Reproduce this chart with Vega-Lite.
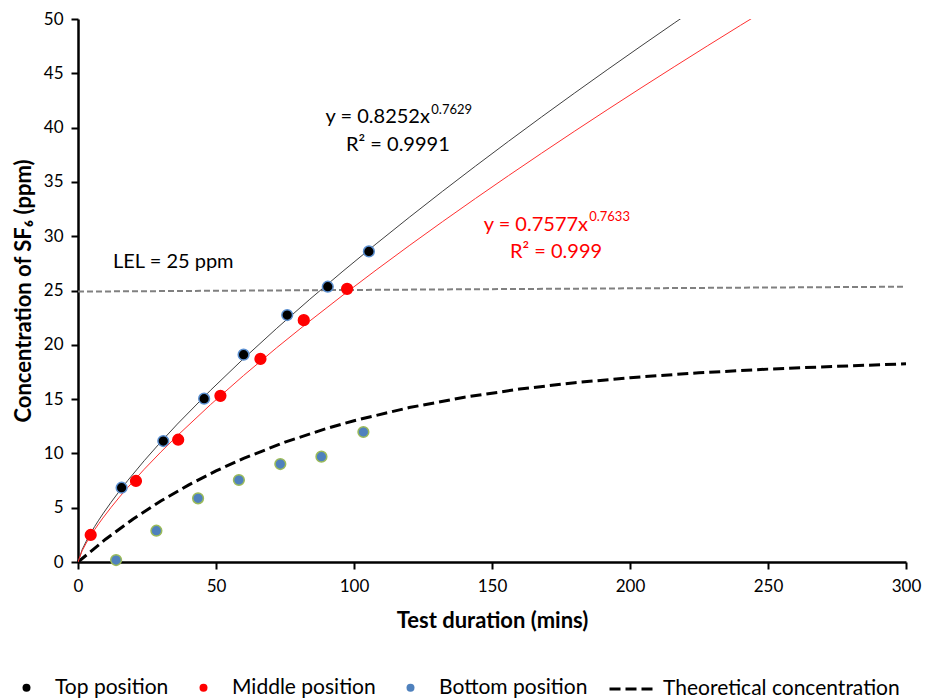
{
  "$schema": "https://vega.github.io/schema/vega-lite/v6.json",
  "width": 828,
  "height": 543,
  "autosize": {"type": "none"},
  "padding": {"left": 78, "top": 19, "right": 30, "bottom": 136},
  "background": "white",
  "config": {
    "view": {"stroke": null},
    "font": "Lato",
    "axis": {
      "grid": false,
      "domainColor": "black",
      "domainWidth": 2.5,
      "tickColor": "black",
      "tickWidth": 2,
      "tickSize": 7,
      "labelFont": "Lato",
      "labelFontSize": 17,
      "labelColor": "black",
      "labelFlush": false,
      "labelOverlap": false,
      "titleFont": "Lato",
      "titleFontSize": 22,
      "titleFontWeight": "bold",
      "titleColor": "black"
    }
  },
  "datasets": {
    "points": [
      {"series": "Top position", "time": 15.8, "conc": 6.84},
      {"series": "Top position", "time": 30.9, "conc": 11.14},
      {"series": "Top position", "time": 45.7, "conc": 15.04},
      {"series": "Top position", "time": 60.0, "conc": 19.09},
      {"series": "Top position", "time": 75.8, "conc": 22.74},
      {"series": "Top position", "time": 90.5, "conc": 25.35},
      {"series": "Top position", "time": 105.4, "conc": 28.6},
      {"series": "Middle position", "time": 4.6, "conc": 2.49},
      {"series": "Middle position", "time": 21.0, "conc": 7.46},
      {"series": "Middle position", "time": 36.3, "conc": 11.26},
      {"series": "Middle position", "time": 51.6, "conc": 15.3},
      {"series": "Middle position", "time": 66.1, "conc": 18.7},
      {"series": "Middle position", "time": 81.8, "conc": 22.27},
      {"series": "Middle position", "time": 97.5, "conc": 25.15},
      {"series": "Bottom position", "time": 13.8, "conc": 0.18},
      {"series": "Bottom position", "time": 28.4, "conc": 2.88},
      {"series": "Bottom position", "time": 43.5, "conc": 5.86},
      {"series": "Bottom position", "time": 58.3, "conc": 7.55},
      {"series": "Bottom position", "time": 73.3, "conc": 9.02},
      {"series": "Bottom position", "time": 88.2, "conc": 9.7},
      {"series": "Bottom position", "time": 103.4, "conc": 11.97}
    ],
    "theory": [
      {"curve": "Theoretical concentration", "time": 0, "conc": 0},
      {"curve": "Theoretical concentration", "time": 10, "conc": 2.1},
      {"curve": "Theoretical concentration", "time": 20, "conc": 3.96},
      {"curve": "Theoretical concentration", "time": 30, "conc": 5.62},
      {"curve": "Theoretical concentration", "time": 40, "conc": 7.08},
      {"curve": "Theoretical concentration", "time": 50, "conc": 8.39},
      {"curve": "Theoretical concentration", "time": 60, "conc": 9.54},
      {"curve": "Theoretical concentration", "time": 75, "conc": 11.04},
      {"curve": "Theoretical concentration", "time": 90, "conc": 12.29},
      {"curve": "Theoretical concentration", "time": 100, "conc": 13.01},
      {"curve": "Theoretical concentration", "time": 120, "conc": 14.22},
      {"curve": "Theoretical concentration", "time": 140, "conc": 15.17},
      {"curve": "Theoretical concentration", "time": 160, "conc": 15.92},
      {"curve": "Theoretical concentration", "time": 180, "conc": 16.51},
      {"curve": "Theoretical concentration", "time": 200, "conc": 16.97},
      {"curve": "Theoretical concentration", "time": 225, "conc": 17.42},
      {"curve": "Theoretical concentration", "time": 250, "conc": 17.76},
      {"curve": "Theoretical concentration", "time": 275, "conc": 18.02},
      {"curve": "Theoretical concentration", "time": 300, "conc": 18.25}
    ],
    "lel": [
      {"time": 0, "conc": 24.9},
      {"time": 300, "conc": 25.35}
    ]
  },
  "encoding": {
    "x": {
      "field": "time",
      "type": "quantitative",
      "scale": {"domain": [0, 300], "nice": false, "zero": false},
      "axis": {"title": "Test duration (mins)", "values": [0, 50, 100, 150, 200, 250, 300], "labelPadding": 9, "titlePadding": 16}
    },
    "y": {
      "field": "conc",
      "type": "quantitative",
      "scale": {"domain": [0, 50], "nice": false, "zero": false},
      "axis": {"title": "Concentration of SF₆ (ppm)", "values": [0, 5, 10, 15, 20, 25, 30, 35, 40, 45, 50], "labelPadding": 8, "titlePadding": 8}
    }
  },
  "layer": [
    {
      "data": {"name": "lel"},
      "mark": {"type": "line", "stroke": "#808080", "strokeWidth": 2, "strokeDash": [6, 3]},
      "encoding": {}
    },
    {
      "data": {"name": "theory"},
      "mark": {"type": "line", "stroke": "black", "strokeWidth": 3},
      "encoding": {
        "strokeDash": {
          "field": "curve",
          "type": "nominal",
          "scale": {"range": [[11, 5]]},
          "legend": {
            "orient": "none",
            "legendX": 530,
            "legendY": 646,
            "title": null,
            "symbolType": "stroke",
            "symbolSize": 2025,
            "symbolStrokeWidth": 3,
            "symbolStrokeColor": "black",
            "symbolDash": [8, 4],
            "labelFont": "Lato",
            "labelFontSize": 21,
            "labelColor": "black",
            "labelOffset": 7,
            "labelLimit": 0,
            "padding": 0
          }
        }
      }
    },
    {
      "data": {"name": "points"},
      "transform": [
        {"filter": "datum.series === 'Top position'"},
        {"regression": "conc", "on": "time", "method": "pow", "extent": [0, 300]}
      ],
      "mark": {"type": "line", "stroke": "#404040", "strokeWidth": 1, "clip": true},
      "encoding": {}
    },
    {
      "data": {"name": "points"},
      "transform": [
        {"filter": "datum.series === 'Middle position'"},
        {"regression": "conc", "on": "time", "method": "pow", "extent": [0, 300]}
      ],
      "mark": {"type": "line", "stroke": "#ff3030", "strokeWidth": 1, "clip": true},
      "encoding": {}
    },
    {
      "data": {"name": "points"},
      "mark": {"type": "point", "filled": true, "size": 115, "strokeWidth": 1.5, "opacity": 1},
      "encoding": {
        "color": {
          "field": "series",
          "type": "nominal",
          "scale": {"domain": ["Top position", "Middle position", "Bottom position"], "range": ["#000000", "#ff0000", "#4f81bd"]},
          "legend": {
            "orient": "none",
            "legendX": -62,
            "legendY": 658,
            "direction": "horizontal",
            "title": null,
            "symbolType": "circle",
            "symbolSize": 64,
            "symbolStrokeWidth": 0,
            "labelFont": "Lato",
            "labelFontSize": 21,
            "labelColor": "black",
            "labelOffset": 18,
            "labelLimit": 0,
            "columnPadding": 24,
            "padding": 0
          }
        },
        "stroke": {
          "field": "series",
          "type": "nominal",
          "scale": {"domain": ["Top position", "Middle position", "Bottom position"], "range": ["#5b8fd0", "#ff0000", "#9bbb59"]},
          "legend": null
        }
      }
    },
    {
      "data": {"values": [{"time": 127.5, "conc": 40.98, "label": "y = 0.8252x"}]},
      "mark": {"type": "text", "align": "right", "baseline": "middle", "fontSize": 20, "color": "black"},
      "encoding": {"text": {"field": "label"}}
    },
    {
      "data": {"values": [{"time": 128.0, "conc": 41.6, "label": "0.7629"}]},
      "mark": {"type": "text", "align": "left", "baseline": "middle", "fontSize": 13, "color": "black"},
      "encoding": {"text": {"field": "label"}}
    },
    {
      "data": {"values": [{"time": 115.9, "conc": 38.4, "label": "R² = 0.9991"}]},
      "mark": {"type": "text", "align": "center", "baseline": "middle", "fontSize": 20, "color": "black"},
      "encoding": {"text": {"field": "label"}}
    },
    {
      "data": {"values": [{"time": 184.8, "conc": 31.03, "label": "y = 0.7577x"}]},
      "mark": {"type": "text", "align": "right", "baseline": "middle", "fontSize": 20, "color": "#ff0000"},
      "encoding": {"text": {"field": "label"}}
    },
    {
      "data": {"values": [{"time": 185.2, "conc": 31.75, "label": "0.7633"}]},
      "mark": {"type": "text", "align": "left", "baseline": "middle", "fontSize": 13, "color": "#ff0000"},
      "encoding": {"text": {"field": "label"}}
    },
    {
      "data": {"values": [{"time": 173.2, "conc": 28.55, "label": "R² = 0.999"}]},
      "mark": {"type": "text", "align": "center", "baseline": "middle", "fontSize": 20, "color": "#ff0000"},
      "encoding": {"text": {"field": "label"}}
    },
    {
      "data": {"values": [{"time": 12.7, "conc": 27.6, "label": "LEL = 25 ppm"}]},
      "mark": {"type": "text", "align": "left", "baseline": "middle", "fontSize": 20, "color": "black"},
      "encoding": {"text": {"field": "label"}}
    }
  ]
}
